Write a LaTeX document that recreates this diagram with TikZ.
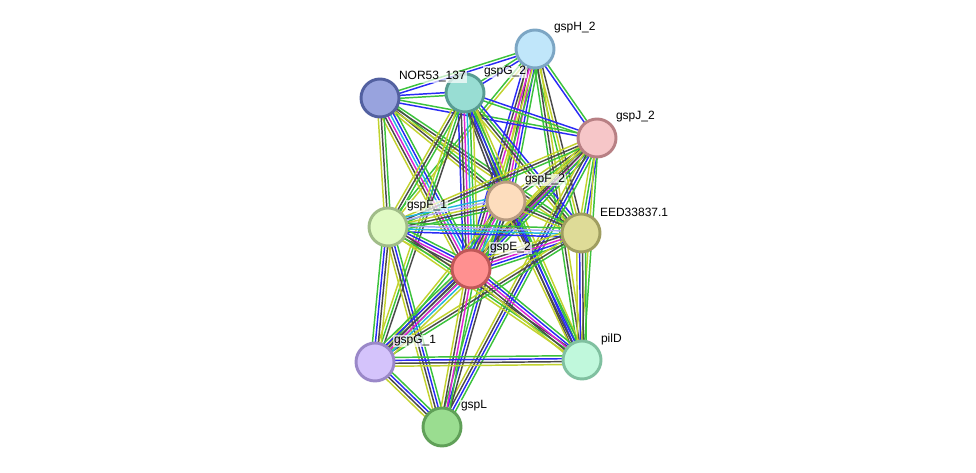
\documentclass[tikz,border=0pt]{standalone}
\usepackage{fontspec}
\setmainfont{Liberation Sans}
\usetikzlibrary{calc,backgrounds}
\definecolor{cnbh}{HTML}{3CC23C}
\definecolor{ccooc}{HTML}{2A2AF5}
\definecolor{ccoex}{HTML}{4A4A4A}
\definecolor{cexpt}{HTML}{DD22D5}
\definecolor{cdbase}{HTML}{22B8DC}
\definecolor{ctxtm}{HTML}{C2D22E}
\definecolor{chomol}{HTML}{A8A8F8}
\tikzset{
  prot/.style={circle,draw,line width=2.2pt,minimum size=28.5pt,inner sep=0pt},
  lbl/.style={font=\fontsize{9}{10}\selectfont,fill=white,fill opacity=0.7,text opacity=1,inner sep=0.6pt,anchor=west},
  nbh/.style={draw=cnbh,line width=1.1pt},
  cooc/.style={draw=ccooc,line width=1.1pt},
  coex/.style={draw=ccoex,line width=1.1pt},
  expt/.style={draw=cexpt,line width=1.1pt},
  dbase/.style={draw=cdbase,line width=1.1pt},
  txtm/.style={draw=ctxtm,line width=1.1pt},
  homol/.style={draw=chomol,line width=1.1pt},
}
% one evidence line per channel, side by side
\newcommand{\linkpair}[3]{%
  \foreach \c [count=\i] in {#3} {\xdef\nlines{\i}}%
  \foreach \c [count=\i] in {#3} {%
    \pgfmathsetmacro\off{(\i-(\nlines+1)/2)*2.2}%
    \draw[\c] ($(#1)!\off pt!90:(#2)$) -- ($(#2)!\off pt!-90:(#1)$);%
  }}
\begin{document}
\begin{tikzpicture}[x=0.75pt,y=-0.75pt]
\useasboundingbox (0,0) rectangle (976,473);
% proteins
\node[prot,fill={rgb,255:red,192;green,230;blue,250},draw={rgb,255:red,124;green,166;blue,196}] (H) at (535,49) {};
\node[prot,fill={rgb,255:red,152;green,163;blue,222},draw={rgb,255:red,82;green,96;blue,160}] (N) at (380,98) {};
\node[prot,fill={rgb,255:red,152;green,221;blue,211},draw={rgb,255:red,88;green,156;blue,146}] (G2) at (465,93) {};
\node[prot,fill={rgb,255:red,246;green,198;blue,200},draw={rgb,255:red,184;green,128;blue,132}] (J) at (597,138) {};
\node[prot,fill={rgb,255:red,253;green,221;blue,189},draw={rgb,255:red,184;green,155;blue,128}] (F2) at (506,201) {};
\node[prot,fill={rgb,255:red,224;green,250;blue,195},draw={rgb,255:red,160;green,188;blue,136}] (F1) at (388,227) {};
\node[prot,fill={rgb,255:red,222;green,219;blue,151},draw={rgb,255:red,160;green,158;blue,96}] (EE) at (581,233) {};
\node[prot,fill={rgb,255:red,255;green,144;blue,144},draw={rgb,255:red,192;green,88;blue,88}] (E2) at (471,269) {};
\node[prot,fill={rgb,255:red,212;green,195;blue,251},draw={rgb,255:red,154;green,136;blue,200}] (G1) at (375,362) {};
\node[prot,fill={rgb,255:red,192;green,248;blue,220},draw={rgb,255:red,128;green,192;blue,160}] (P) at (582,360) {};
\node[prot,fill={rgb,255:red,154;green,221;blue,144},draw={rgb,255:red,96;green,160;blue,88}] (L) at (442,427) {};
% evidence links
\begin{scope}[on background layer]
\linkpair{H}{N}{nbh,cooc}
\linkpair{H}{G2}{nbh,cooc}
\linkpair{H}{J}{cooc,nbh}
\linkpair{H}{F2}{txtm,coex,expt,cooc,nbh}
\linkpair{H}{E2}{cooc,coex,expt,txtm,nbh}
\linkpair{H}{F1}{nbh,txtm}
\linkpair{H}{EE}{nbh,txtm,coex}
\linkpair{H}{P}{nbh,coex,txtm}
\linkpair{N}{G2}{nbh,cooc}
\linkpair{N}{J}{cooc,nbh}
\linkpair{N}{F2}{txtm,coex,nbh}
\linkpair{N}{E2}{txtm,coex,expt,dbase,cooc,nbh}
\linkpair{N}{F1}{txtm,coex,nbh}
\linkpair{N}{EE}{txtm,coex,nbh}
\linkpair{G2}{J}{nbh,cooc}
\linkpair{G2}{F2}{coex,cooc,nbh,txtm}
\linkpair{G2}{E2}{cooc,coex,expt,dbase,nbh,txtm}
\linkpair{G2}{F1}{txtm,coex,nbh}
\linkpair{G2}{EE}{txtm,coex,nbh,cooc}
\linkpair{G2}{P}{coex,cooc,nbh,txtm}
\linkpair{G2}{G1}{txtm,nbh,coex}
\linkpair{J}{F2}{txtm,coex,nbh}
\linkpair{J}{E2}{txtm,coex,expt,cooc,nbh}
\linkpair{J}{F1}{txtm,coex,nbh}
\linkpair{J}{EE}{txtm,nbh,cooc}
\linkpair{J}{P}{txtm,nbh}
\linkpair{J}{G1}{txtm,coex,nbh}
\linkpair{J}{L}{txtm,coex,cooc,nbh}
\linkpair{F2}{F1}{dbase,homol,txtm,coex,nbh}
\linkpair{F2}{E2}{cooc,coex,expt,dbase,txtm,nbh}
\linkpair{F2}{EE}{txtm,coex,nbh}
\linkpair{F2}{P}{txtm,coex,cooc,nbh}
\linkpair{F2}{G1}{txtm,nbh}
\linkpair{F2}{L}{nbh,cooc,coex}
\linkpair{F1}{EE}{cooc,dbase,homol,nbh}
\linkpair{F1}{E2}{txtm,coex,expt,cooc,nbh}
\linkpair{F1}{G1}{nbh,cooc,coex,txtm}
\linkpair{F1}{L}{txtm,coex,cooc,nbh}
\linkpair{F1}{P}{txtm,nbh,coex}
\linkpair{EE}{E2}{txtm,coex,expt,cooc,nbh}
\linkpair{EE}{G1}{txtm,coex,nbh}
\linkpair{EE}{P}{txtm,cooc,coex,nbh}
\linkpair{E2}{G1}{nbh,cooc,coex,expt,dbase,txtm}
\linkpair{E2}{P}{txtm,coex,expt,cooc,nbh}
\linkpair{E2}{L}{txtm,coex,expt,nbh}
\linkpair{G1}{P}{txtm,coex,cooc,nbh}
\linkpair{G1}{L}{txtm,coex,cooc,nbh}
\end{scope}
% names
\foreach \n/\t in {H/gspH\_2,N/NOR53\_137,G2/gspG\_2,J/gspJ\_2,F2/gspF\_2,F1/gspF\_1,EE/EED33837.1,E2/gspE\_2,G1/gspG\_1,P/pilD,L/gspL}
  \node[lbl] (\n-lbl) at ($(\n)+(18,-21)$) {\t};
\end{tikzpicture}
\end{document}
